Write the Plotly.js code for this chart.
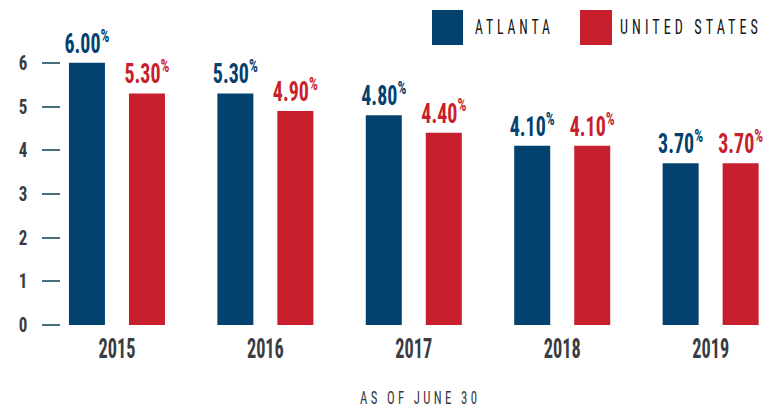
<!DOCTYPE html>
<html><head><meta charset="utf-8">
<script src="https://cdn.plot.ly/plotly-3.0.1.min.js"></script>
<style>body{margin:0;background:#fff}#chart{width:778px;height:409px}</style>
</head><body><div id="chart"></div>
<script>
const years = ["2015","2016","2017","2018","2019"];
const atlanta = [6.00, 5.30, 4.80, 4.10, 3.70];
const unitedStates = [5.30, 4.90, 4.40, 4.10, 3.70];
const seriesNames = ["ATLANTA", "UNITED STATES"];
const yTicks = [0,1,2,3,4,5,6];
const xTitle = "AS OF JUNE 30";

const navy = "#03426f", red = "#c81f2e", grey = "#3a3c3f";
const cond = "'Roboto Condensed','Open Sans Condensed',sans-serif";
const lbl = v => v.toFixed(2) + "<sup>%</sup>";

const traces = [
  {type:"bar", name:seriesNames[0], x:years, y:atlanta, marker:{color:navy},
   width:0.2426, offset:-0.3235, text:atlanta.map(lbl), textposition:"outside", constraintext:"none",
   textfont:{family:cond, size:27, color:navy, weight:"bold"}, cliponaxis:false, hoverinfo:"skip"},
  {type:"bar", name:seriesNames[1], x:years, y:unitedStates, marker:{color:red},
   width:0.2426, offset:0.0809, text:unitedStates.map(lbl), textposition:"outside", constraintext:"none",
   textfont:{family:cond, size:27, color:red, weight:"bold"}, cliponaxis:false, hoverinfo:"skip"}
];

const PL = 61, PW = 709, PB = 325, PH = 284;
const px = x => (x - PL) / PW, py = y => (PB - y) / PH;
const layout = {
  width:778, height:409, paper_bgcolor:"#fff", plot_bgcolor:"#fff",
  margin:{l:61, r:8, t:41, b:84},
  showlegend:false, barmode:"overlay",
  xaxis:{type:"category", range:[-0.377, 4.40], showline:false, showgrid:false, zeroline:false,
    ticks:"", ticklabelstandoff:4, tickfont:{family:cond, size:28, color:grey, weight:"bold"}},
  yaxis:{range:[0,6.5], tickvals:yTicks, showgrid:false, zeroline:false, showline:false,
    ticks:"outside", ticklen:18, tickwidth:2, tickcolor:"#4b6d80", ticklabelstandoff:10,
    tickfont:{family:cond, size:20, color:grey, weight:"bold"}},
  shapes:[
    {type:"rect", xref:"paper", yref:"paper", x0:px(432), x1:px(463), y0:py(45), y1:py(10), fillcolor:navy, line:{width:0}},
    {type:"rect", xref:"paper", yref:"paper", x0:px(580), x1:px(612), y0:py(45), y1:py(10), fillcolor:red, line:{width:0}}
  ],
  annotations:[
    {xref:"paper", yref:"paper", x:px(475), y:py(27.5), xanchor:"left", yanchor:"middle", showarrow:false,
     text:seriesNames[0], font:{family:cond, size:21, color:"#151515"}},
    {xref:"paper", yref:"paper", x:px(620), y:py(27.5), xanchor:"left", yanchor:"middle", showarrow:false,
     text:seriesNames[1], font:{family:cond, size:21, color:"#151515"}},
    {xref:"paper", yref:"paper", x:px(418), y:py(397), xanchor:"center", yanchor:"middle", showarrow:false,
     text:xTitle, font:{family:cond, size:19, color:"#3a3a3a"}}
  ]
};

// styling helpers (visual only)
function squeeze(el, sx, dx){
  const bb = el.getBBox();
  const cx = bb.x + bb.width/2;
  const ex = el.getAttribute('transform') || '';
  el.setAttribute('transform', `translate(${dx||0},0) ${ex} translate(${cx},0) scale(${sx},1) translate(${-cx},0)`);
}
function fitText(el, ls, targetLeft, targetWidth, host){
  el.style.letterSpacing = ls + 'px';
  const w = el.getBBox().width - ls;
  const sx = targetWidth / w;
  squeeze(el, sx, 0);
  const r = el.getBoundingClientRect();
  const dx = (host.left + targetLeft) - r.left;
  const ex = el.getAttribute('transform');
  el.setAttribute('transform', `translate(${dx},0) ` + ex);
}

Plotly.newPlot("chart", traces, layout, {displayModeBar:false, staticPlot:true}).then(()=>{
  const host = document.getElementById('chart').getBoundingClientRect();
  const ann = document.querySelectorAll('.annotation-text');
  fitText(ann[0], 6, 475, 75, host);
  fitText(ann[1], 6, 620, 138, host);
  fitText(ann[2], 5, 360, 117, host);
  document.querySelectorAll('.bartext text, text.bartext').forEach(el=>squeeze(el, 0.74));
  document.querySelectorAll('.xtick text').forEach(el=>{
    const w = el.getBBox().width; squeeze(el, 37/w);
  });
  document.querySelectorAll('.ytick text').forEach(el=>squeeze(el, 0.85));
});
</script></body></html>
